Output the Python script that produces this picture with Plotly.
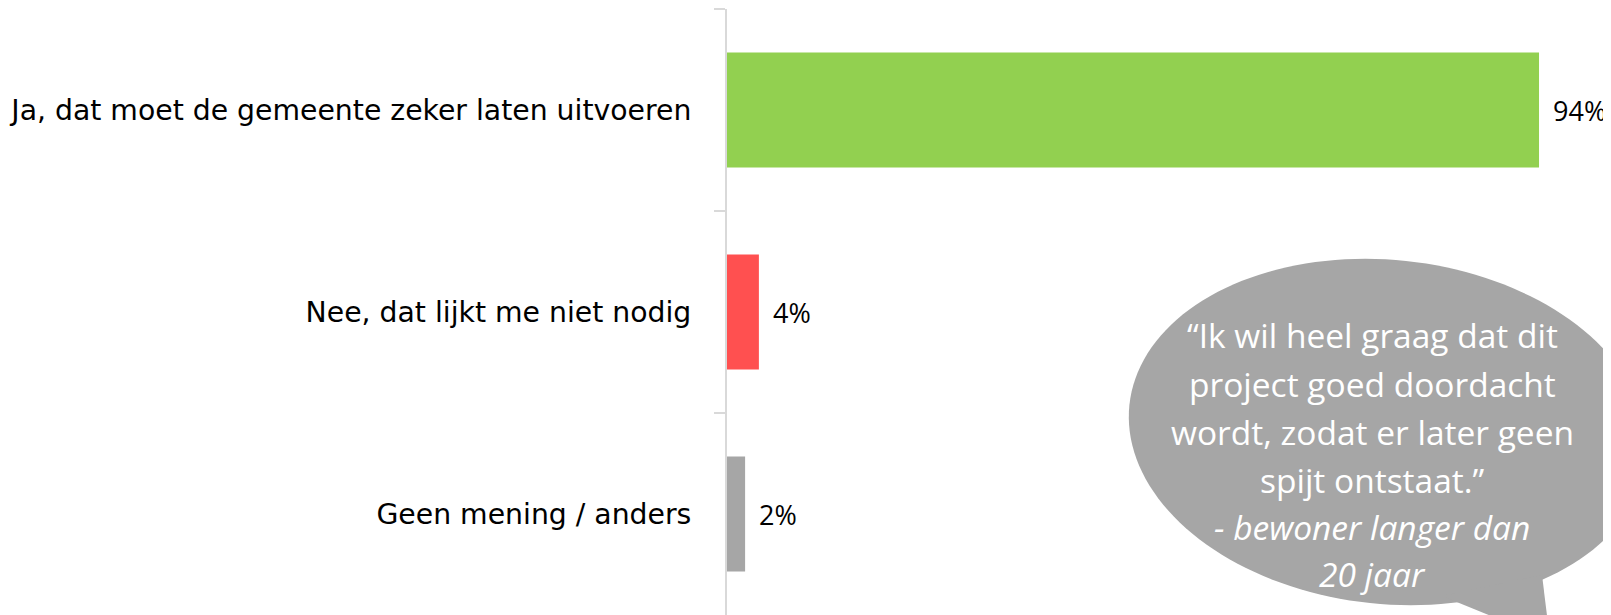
import numpy as np
import plotly.graph_objects as go

# ---- data ----
categories = [
    "Ja, dat moet de gemeente zeker laten uitvoeren",
    "Nee, dat lijkt me niet nodig",
    "Geen mening / anders",
]
values = [94.2, 3.7, 2.1]
value_labels = ["94%", "4%", "2%"]
bar_colors = ["#92D050", "#FF5050", "#A6A6A6"]

quote_lines = [
    "\u201cIk wil heel graag dat dit",
    "project goed doordacht",
    "wordt, zodat er later geen",
    "spijt ontstaat.\u201d",
    "<i>- bewoner langer dan</i>",
    "<i>20 jaar</i>",
]

# ---- layout geometry (pixels) ----
OFF = 8                      # page body margin
W, H = 1611 - OFF, 615 - OFF
ML, MR, MT, MB = 719, 0, 1, 0
PW, PH = W - ML - MR, H - MT - MB
XMAX = 102.55


def to_paper(px, py):
    """page pixel -> paper coords"""
    fx, fy = px - OFF, py - OFF
    return (fx - ML) / PW, 1 - (fy - MT) / PH


# speech bubble: slightly rotated ellipse + tail (decoration, page pixels)
cx, cy, a, b, th = 1388, 432, 260, 172, np.deg2rad(6)
t = np.linspace(0, 2 * np.pi, 160, endpoint=False)
ex = cx + a * np.cos(t) * np.cos(th) - b * np.sin(t) * np.sin(th)
ey = cy + a * np.cos(t) * np.sin(th) + b * np.sin(t) * np.cos(th)
pts = [to_paper(x, y) for x, y in zip(ex, ey)]
ell_path = "M " + " L ".join(f"{x:.5f},{y:.5f}" for x, y in pts) + " Z"
tail = [to_paper(1442, 596), to_paper(1542, 575), to_paper(1550, 640)]
tail_path = "M " + " L ".join(f"{x:.5f},{y:.5f}" for x, y in tail) + " Z"

fig = go.Figure()
fig.add_trace(go.Bar(
    x=values, y=categories, orientation="h",
    marker=dict(color=bar_colors, line=dict(width=0)),
    width=0.57, hoverinfo="skip",
))

for v, c, lab in zip(values, categories, value_labels):
    fig.add_annotation(x=v, y=c, xref="x", yref="y", text=lab, showarrow=False,
                       xanchor="left", yanchor="middle", xshift=12,
                       font=dict(family="Open Sans", size=27, color="#000000"))

for p in (ell_path, tail_path):
    fig.add_shape(type="path", path=p, xref="paper", yref="paper",
                  fillcolor="#A6A6A6", line=dict(width=0), layer="above")

line_y = [335, 384, 432, 480, 527, 574]
for txt, ly in zip(quote_lines, line_y):
    px, py = to_paper(1372, ly)
    fig.add_annotation(x=px, y=py, xref="paper", yref="paper", text=txt,
                       showarrow=False, xanchor="center", yanchor="middle",
                       font=dict(family="Open Sans", size=33.5, color="#FFFFFF"))

fig.update_layout(
    width=W, height=H,
    margin=dict(l=ML, r=MR, t=MT, b=MB, autoexpand=False),
    paper_bgcolor="#FFFFFF", plot_bgcolor="#FFFFFF",
    showlegend=False,
    xaxis=dict(range=[0, XMAX], visible=False, showgrid=False, zeroline=False),
    yaxis=dict(
        type="category", categoryorder="array", categoryarray=categories,
        autorange="reversed",
        showline=True, linecolor="#D9D9D9", linewidth=2,
        ticks="outside", tickson="boundaries", ticklen=11,
        tickcolor="#D9D9D9", tickwidth=2,
        ticklabelstandoff=28,
        tickfont=dict(family="DejaVu Sans", size=28.3, color="#000000"),
        showgrid=False, zeroline=False,
    ),
)

fig.write_html("out.html")
